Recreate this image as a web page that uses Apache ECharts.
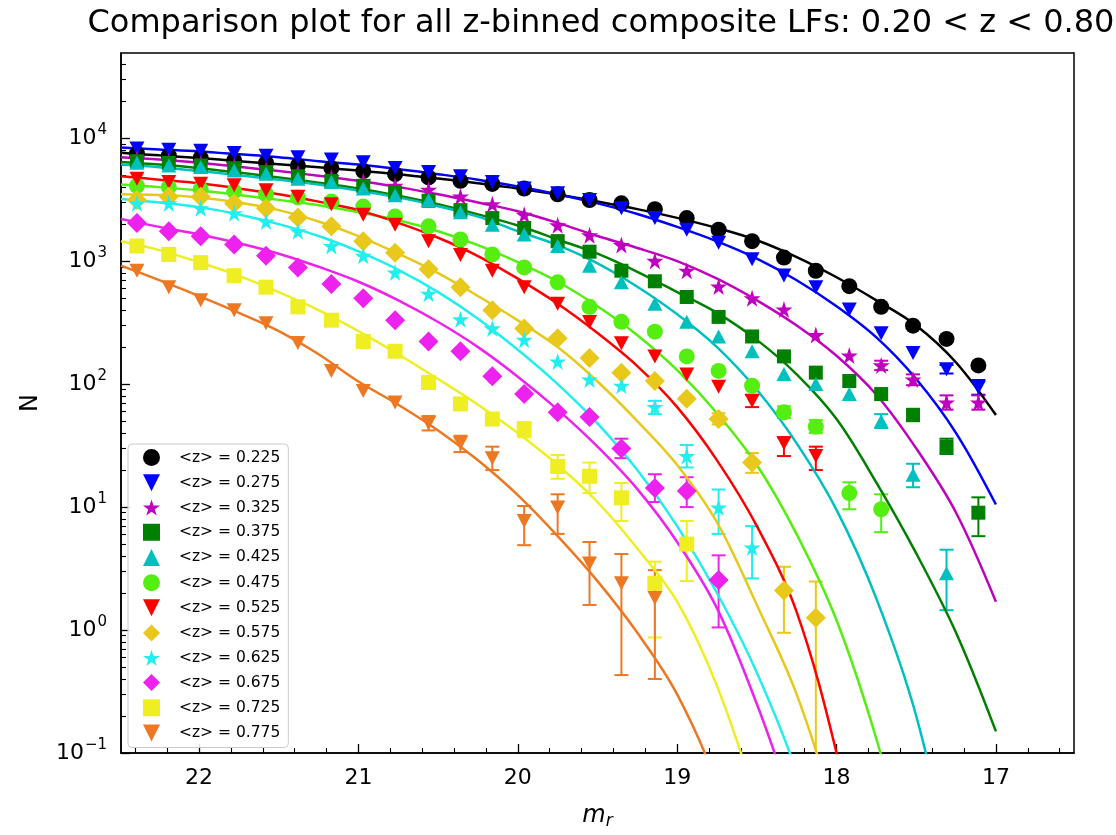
<!DOCTYPE html>
<html><head><meta charset="utf-8">
<script src="https://cdn.jsdelivr.net/npm/echarts@6/dist/echarts.min.js"></script>
<style>html,body{margin:0;padding:0;background:#fff}#c{width:1116px;height:835px}</style>
</head><body><div id="c"></div>
<script>
// magnitude bins (m_r), ascending
const mr = [17.11,17.31,17.52,17.72,17.92,18.13,18.33,18.53,18.74,18.94,19.14,19.35,19.55,19.75,19.96,20.16,20.36,20.56,20.77,20.97,21.17,21.38,21.58,21.78,21.99,22.19,22.39];
const zLabels = ['0.225','0.275','0.325','0.375','0.425','0.475','0.525','0.575','0.625','0.675','0.725','0.775'];
// measured counts N per bin (null = no point)
const n225 = [142,233,299,425,626,836,1069,1455,1803,2240,2643,2951,3143,3500,3900,4250,4500,4800,5100,5400,5700,6000,6300,6600,6900,7200,7500];
const n275 = [94,132,179,259,404,614,763,1035,1410,1800,2240,2690,3140,3560,3900,4410,4900,5310,5710,6380,6700,7000,7210,7580,7910,8050,8260];
const n325 = [71,71,109,142,171,251,405,500,622,836,1005,1352,1625,1955,2380,2900,3350,3800,4100,4450,4800,5200,5500,5900,6200,6500,6800];
const n375 = [9,31,56,83,106,124,168,244,352,511,686,836,1194,1455,1862,2240,2600,3100,3600,4100,4500,4900,5300,5700,6000,6300,6500];
const n425 = [null,2.9,18.3,50,83,100,121,185,244,321,451,673,916,1327,1645,1980,2500,3140,3440,3900,4410,4690,5140,5470,5820,6000,6300];
const n475 = [null,null,null,9.6,13,45,59,97,128,168,267,321,425,673,889,1135,1500,1920,2310,2780,3050,3300,3500,3700,3850,4000,4100];
const n525 = [null,null,null,null,null,26,33,73,95,120,168,215,320,450,614,836,1120,1455,1980,2380,2900,3340,3780,4140,4270,4410,4690];
const n575 = [null,null,null,null,null,1.26,2.1,23,52,76,106,124,163,236,284,399,614,861,1172,1455,1920,2270,2690,2950,3340,3340,3140];
const n625 = [null,null,null,null,null,null,null,4.7,9.9,26,65,97,109,153,229,284,337,542,809,1104,1327,1750,2100,2455,2690,2950,2950];
const n675 = [null,null,null,null,null,null,null,null,2.55,13.5,14.3,30,54,59,83,116,185,222,331,500,653,889,1104,1368,1596,1750,2040];
const n725 = [null,null,null,null,null,null,null,null,null,5.0,2.4,11.9,17.8,21.4,43,52,69,103,185,222,331,425,614,762,973,1135,1327];
const n775 = [null,null,null,null,null,null,null,null,null,null,1.82,2.4,3.47,9.9,7.7,25,33,48,71,88,128,216,312,399,480,614,836];
// visible error bars: [m, low, high]
const e225 = [];
const e275 = [[17.11,82,108],[17.31,122,143]];
const e325 = [[17.11,62,81],[17.31,62,81],[17.52,98,120],[17.72,130,155]];
const e375 = [[17.11,5.8,12],[17.31,27,36],[17.52,50,63]];
const e425 = [[17.31,1.45,4.5],[17.52,14.5,22.5],[17.72,44,57]];
const e475 = [[17.72,6.25,12.7],[17.92,9.6,15.9],[18.13,40,51],[18.33,53,66]];
const e525 = [[18.13,20,31],[18.33,26,37],[18.53,65,82]];
const e575 = [[18.13,0.05,2.48],[18.33,0.95,3.27],[18.53,19,27.5],[18.74,47,58]];
const e625 = [[18.53,2.63,7.0],[18.74,6.05,13.9],[18.94,21,32],[19.14,57,73]];
const e675 = [[18.74,1.05,4.05],[18.94,10,17.5],[19.14,11,18.5],[19.35,25,36]];
const e725 = [[18.94,2.5,7.7],[19.14,0.87,3.6],[19.35,7.7,15.7],[19.55,13,23],[19.75,17,26.5],[19.96,37,49]];
const e775 = [[19.14,0.40,3.07],[19.35,0.43,4.15],[19.55,1.6,5.2],[19.75,6.05,12.7],[19.96,4.9,10.2],[20.16,20,31],[20.36,28,38],[20.56,42,55]];
// fitted curves, sampled at fitM
const fitM = [22.49,22.25,22.0,21.75,21.5,21.25,21.0,20.75,20.5,20.25,20.0,19.75,19.5,19.25,19.0,18.75,18.5,18.25,18.0,17.75,17.5,17.25,17.0];
const fit225 = [7600,7250,6900,6500,6150,5800,5450,5100,4700,4300,3900,3480,3050,2650,2250,1860,1480,1080,740,480,300,150,56];
const fit275 = [8400,8100,7800,7400,7000,6500,6100,5600,5100,4600,4050,3500,2950,2420,1900,1450,1050,700,430,240,110,40,10.5];
const fit325 = [7000,6700,6300,5850,5400,4950,4500,4000,3500,3000,2550,2050,1600,1280,1000,720,480,300,170,82,30,9,1.7];
const fit375 = [6400,6100,5700,5250,4800,4350,3900,3400,2900,2400,1950,1500,1150,820,560,380,229,120,52,15.8,4.2,0.95,0.15];
const fit425 = [6100,5800,5400,5000,4600,4200,3750,3300,2800,2300,1750,1350,960,620,370,200,90,33,9.5,1.8,0.2,0.008,null];
const fit475 = [4200,4000,3750,3450,3150,2850,2500,2150,1750,1350,980,680,430,250,130,58,22,6,1.2,0.13,0.008,null,null];
const fit525 = [4900,4600,4300,3900,3500,3050,2600,2050,1550,1100,720,450,260,140,65,24,7,1.4,0.1,0.003,null,null,null];
const fit575 = [3500,3450,3300,3000,2600,2100,1600,1150,800,520,330,200,105,50,22,7.5,1.6,0.3,0.03,null,null,null,null];
const fit625 = [3200,3000,2750,2400,2000,1600,1200,850,560,340,190,100,48,20,7,2,0.45,0.07,0.006,null,null,null,null];
const fit675 = [2200,1900,1650,1400,1150,900,680,480,320,200,115,62,31,14,5.2,1.5,0.25,0.03,null,null,null,null,null];
const fit725 = [1450,1230,980,760,560,400,270,175,110,68,40,22,11,4.6,1.7,0.35,0.04,null,null,null,null,null,null];
const fit775 = [920,700,520,380,270,175,105,68,42,24,12.5,5.8,2.5,0.95,0.3,0.055,0.004,null,null,null,null,null,null];
// axis ticks
const xMajor = [17,18,19,20,21,22];
const xMinor = [16.6,16.8,17.2,17.4,17.6,17.8,18.2,18.4,18.6,18.8,19.2,19.4,19.6,19.8,20.2,20.4,20.6,20.8,21.2,21.4,21.6,21.8,22.2,22.4];
const yMajor = [0.1,1,10,100,1000,10000];
const yMinor = [0.2,0.3,0.4,0.5,0.6,0.7,0.8,0.9,2,3,4,5,6,7,8,9,20,30,40,50,60,70,80,90,200,300,400,500,600,700,800,900,2000,3000,4000,5000,6000,7000,8000,9000,20000,30000,40000];

const DN = 'path://M0,0L100,0L50,100Z';
const STAR = 'path://M50,0L61.2,34.5L97.6,34.5L68.2,55.9L79.4,90.5L50,69.1L20.6,90.5L31.8,55.9L2.4,34.5L38.8,34.5Z';
const styles = [
  {c:'#000000', s:'circle', sz:16},
  {c:'#0000ff', s:DN, sz:[15,14]},
  {c:'#bf00bf', s:STAR, sz:17},
  {c:'#008000', s:'rect', sz:14},
  {c:'#00bfbf', s:'triangle', sz:[15,14]},
  {c:'#55ee11', s:'circle', sz:16},
  {c:'#ff0000', s:DN, sz:[15,14]},
  {c:'#e8c81a', s:'diamond', sz:20},
  {c:'#22eeee', s:STAR, sz:17},
  {c:'#ee22ee', s:'diamond', sz:20},
  {c:'#eeee22', s:'rect', sz:15},
  {c:'#ee7722', s:DN, sz:[15,14]}
];
const nList = [n225,n275,n325,n375,n425,n475,n525,n575,n625,n675,n725,n775];
const eList = [e225,e275,e325,e375,e425,e475,e525,e575,e625,e675,e725,e775];
const fList = [fit225,fit275,fit325,fit375,fit425,fit475,fit525,fit575,fit625,fit675,fit725,fit775];

const FONT = 'DejaVu Sans';
const series = [];
const legendData = [];
zLabels.forEach((z, k) => {
  const st = styles[k];
  const name = '<z> = ' + z;
  legendData.push({name: name, icon: st.s});
  series.push({
    type: 'custom', name: 'err' + z, clip: true, silent: true, z: 3,
    data: eList[k],
    encode: {x: 0, y: [1, 2]},
    renderItem: function (params, api) {
      const x = api.value(0), lo = api.value(1), hi = api.value(2);
      const a = api.coord([x, hi]), b = api.coord([x, lo]);
      const w = 7, ls = {stroke: st.c, lineWidth: 2};
      return {type: 'group', children: [
        {type: 'line', shape: {x1: a[0], y1: a[1], x2: b[0], y2: b[1]}, style: ls},
        {type: 'line', shape: {x1: a[0] - w, y1: a[1], x2: a[0] + w, y2: a[1]}, style: ls},
        {type: 'line', shape: {x1: b[0] - w, y1: b[1], x2: b[0] + w, y2: b[1]}, style: ls}
      ]};
    }
  });
  series.push({
    type: 'scatter', name: name, z: 3,
    data: mr.map((m, i) => nList[k][i] == null ? null : [m, nList[k][i]]).filter(Boolean),
    symbol: st.s, symbolSize: st.sz,
    itemStyle: {color: st.c, opacity: 1},
    emphasis: {disabled: true}
  });
  series.push({
    type: 'line', name: 'fit' + z, z: 3, silent: true, clip: true,
    data: fitM.map((m, i) => fList[k][i] == null ? null : [m, fList[k][i]]).filter(Boolean),
    showSymbol: false, symbol: 'none', smooth: 0.35,
    lineStyle: {color: st.c, width: 2.5},
    itemStyle: {color: st.c},
    emphasis: {disabled: true}
  });
});

const supMap = e => (e < 0 ? '\u2212' + (-e) : String(e));
const chart = echarts.init(document.getElementById('c'), null, {renderer: 'canvas'});
chart.setOption({
  animation: false,
  backgroundColor: '#ffffff',
  textStyle: {fontFamily: FONT},
  title: {
    text: 'Comparison plot for all z-binned composite LFs: 0.20 < z < 0.80',
    left: 596, top: 3, textAlign: 'center',
    textStyle: {fontFamily: FONT, fontSize: 32, fontWeight: 'normal', color: '#000'}
  },
  grid: {left: 121, top: 53, width: 953, height: 708.5, show: true, borderColor: '#000', borderWidth: 1.5, backgroundColor: 'transparent'},
  legend: {
    orient: 'vertical', left: 128, top: 444,
    data: legendData,
    itemWidth: 17, itemHeight: 17, itemGap: 8.2,
    padding: [5, 8, 6, 15],
    backgroundColor: 'rgba(255,255,255,0.85)', borderColor: '#cccccc', borderWidth: 1, borderRadius: 4,
    selectedMode: false,
    formatter: n => '{p|}' + n,
    textStyle: {fontFamily: FONT, fontSize: 15.5, color: '#000', rich: {p: {width: 14}}}
  },
  xAxis: [{
    type: 'value', min: 16.51, max: 22.49, inverse: true, position: 'bottom',
    axisLine: {show: true, onZero: false, lineStyle: {color: '#000', width: 1.5}},
    axisTick: {show: true, inside: true, length: 9, customValues: xMajor, lineStyle: {color: '#000', width: 1.3}},
    axisLabel: {customValues: xMajor, margin: 14, color: '#000', fontFamily: FONT, fontSize: 22},
    splitLine: {show: false},
    name: '{m|m}{r|r}', nameLocation: 'middle', nameGap: 48,
    nameTextStyle: {rich: {m: {fontFamily: FONT, fontStyle: 'italic', fontSize: 24, color: '#000'}, r: {fontFamily: FONT, fontStyle: 'italic', fontSize: 17, color: '#000', padding: [12, 0, 0, 0]}}}
  }, {
    type: 'value', min: 16.51, max: 22.49, inverse: true, position: 'bottom',
    axisLine: {show: false},
    axisTick: {show: true, inside: true, length: 5, customValues: xMinor, lineStyle: {color: '#000', width: 1.1}},
    axisLabel: {show: false}, splitLine: {show: false}
  }],
  yAxis: [{
    type: 'log', logBase: 10, min: 0.1, max: 49300, position: 'left',
    axisLine: {show: true, onZero: false, lineStyle: {color: '#000', width: 1.5}},
    axisTick: {show: true, inside: true, length: 9, customValues: yMajor, lineStyle: {color: '#000', width: 1.3}},
    axisLabel: {
      customValues: yMajor, margin: 14, color: '#000',
      formatter: v => '{b|10}{s|' + supMap(Math.round(Math.log10(v))) + '}',
      rich: {b: {fontFamily: FONT, fontSize: 22, color: '#000'}, s: {fontFamily: FONT, fontSize: 15, color: '#000', padding: [0, 0, 16, 1]}}
    },
    splitLine: {show: false},
    name: 'N', nameLocation: 'middle', nameGap: 78,
    nameTextStyle: {fontFamily: FONT, fontSize: 24, color: '#000'}
  }, {
    type: 'log', logBase: 10, min: 0.1, max: 49300, position: 'left',
    axisLine: {show: false},
    axisTick: {show: true, inside: true, length: 5, customValues: yMinor, lineStyle: {color: '#000', width: 1.1}},
    axisLabel: {show: false}, splitLine: {show: false}
  }],
  series: series
});
</script>
</body></html>
